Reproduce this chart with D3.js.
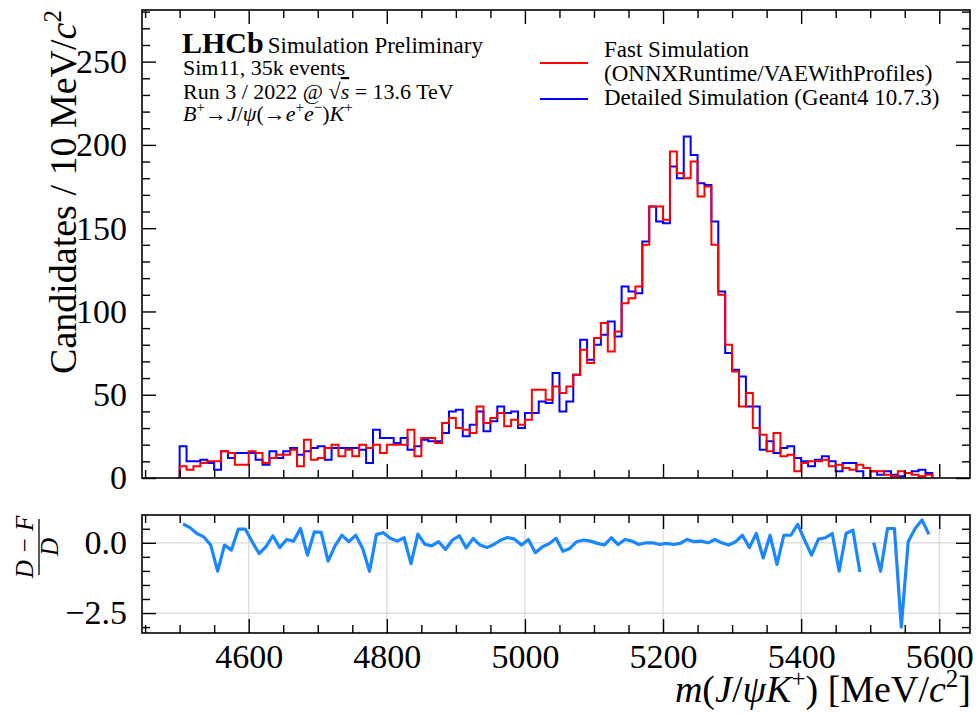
<!DOCTYPE html>
<html>
<head>
<meta charset="utf-8">
<script src="https://cdn.jsdelivr.net/npm/d3@7"></script>
<style>
body { margin: 0; background: #fff; }
svg text { font-family: "Liberation Serif", "DejaVu Serif", serif; fill: #000; }
</style>
</head>
<body>
<svg id="chart" width="977" height="715"></svg>
<script>
// binning of the histogram, MeV
const binStart = 4500, binWidth = 10;

// Detailed Simulation (Geant4), candidates per bin
const detailed = [19,10,10,11,9,5,16,12,15,15,15,11,8,16,12,16,18,14,16,18,19,11,18,18,18,18,17,9,
  29,24,24,21,24,17,19,23,22,22,27,40,41,25,32,40,28,34,43,39,40,30,39,39,46,45,63,
  40,46,62,83,71,80,86,94,85,115,112,111,142,163,154,153,187,180,205,194,177,176,154,112,
  75,65,61,43,43,17,22,15,18,19,12,10,7,11,13,10,4,9,9,4,0,4,2,4,2,1,3,4,5,3];

// Fast Simulation (ONNXRuntime / VAEWithProfiles)
const fast = [7,5,7,9,10,10,16,15,8,8,16,15,9,12,14,14,17,7,23,11,12,18,20,13,17,13,20,18,
  20,15,20,20,20,29,13,24,24,21,33,36,30,29,27,43,33,36,39,31,35,32,35,53,53,47,55,
  51,55,62,77,69,84,93,76,88,105,108,115,140,163,163,155,196,183,180,190,169,175,140,110,
  80,64,43,51,30,26,16,27,13,14,4,9,10,10,11,7,8,6,5,8,6,4,4,2,1,4,3,2,1,2];

// (D-F)/D per bin, null where D is empty
const ratio = [0.67,0.54,0.33,0.21,-0.08,-1.01,-0.08,-0.26,0.49,0.49,0.04,-0.38,-0.14,0.25,-0.17,0.12,0.06,0.51,
  -0.44,0.39,0.37,-0.65,-0.11,0.27,0.04,0.27,-0.2,-1.01,0.30,0.36,0.16,0.06,0.18,-0.74,0.31,-0.05,-0.11,0.04,
  -0.24,0.1,0.25,-0.18,0.16,-0.08,-0.17,-0.06,0.1,0.19,0.13,-0.08,0.12,-0.35,-0.15,-0.03,
  0.16,-0.30,-0.20,0.04,0.10,0.06,-0.02,-0.08,0.18,-0.06,0.12,0.06,-0.06,0.0,0.0,-0.06,-0.02,-0.06,-0.02,
  0.12,0.04,0.06,0.0,0.12,0.0,-0.08,0.04,0.27,-0.17,0.33,-0.54,0.27,-0.77,0.27,0.27,0.66,0.10,-0.44,
  0.13,0.18,0.33,-1.01,0.33,0.45,-1.04,null,0.01,-1.01,0.51,0.51,-3.0,0.04,0.51,0.81,0.30];

const xMajor = [4600, 4800, 5000, 5200, 5400, 5600];
const yMajorTop = [0, 50, 100, 150, 200, 250];
const yMajorRatio = [-2.5, 0.0];

const svg = d3.select("#chart");
const left = 142, right = 970;
const top1 = 10, bot1 = 478, top2 = 515, bot2 = 633;

const x = d3.scaleLinear().domain([4445.5, 5644.5]).range([left, right]);
const y = d3.scaleLinear().domain([0, 281]).range([bot1, top1]);
const yr = d3.scaleLinear().domain([-3.21, 0.99]).range([bot2, top2]);

const edges = detailed.map((d, i) => binStart + i * binWidth);
const lastEdge = binStart + detailed.length * binWidth;
const xMinor = d3.range(4450, 5650, 50).filter(v => xMajor.indexOf(v) < 0);

const MAJ = 14, MIN = 8;

// inward ticks on every side
function ticks(g, axis, vals, size, fmt) {
  g.call(axis.tickValues(vals).tickSize(-size).tickFormat(fmt || ""));
  g.select(".domain").remove();
  g.selectAll("line").attr("stroke", "#000").attr("stroke-width", 1.4);
  return g;
}

// ratio grid
const grid = svg.append("g").attr("stroke", "#d9d9d9").attr("stroke-width", 1.2);
xMajor.forEach(v => grid.append("line").attr("x1", x(v)).attr("x2", x(v)).attr("y1", top2).attr("y2", bot2));
yMajorRatio.forEach(v => grid.append("line").attr("x1", left).attr("x2", right).attr("y1", yr(v)).attr("y2", yr(v)));

// histograms
const stepLine = d3.line().x(d => x(d[0])).y(d => y(d[1])).curve(d3.curveStepAfter);
function histPts(vals) {
  return [[binStart, 0]].concat(vals.map((v, i) => [edges[i], v])).concat([[lastEdge, 0]]);
}
svg.append("path").attr("d", stepLine(histPts(detailed)))
  .attr("fill", "none").attr("stroke", "#0000ff").attr("stroke-width", 2);
svg.append("path").attr("d", stepLine(histPts(fast)))
  .attr("fill", "none").attr("stroke", "#ff0000").attr("stroke-width", 2);

// ratio line
const rLine = d3.line().defined(d => d != null)
  .x((d, i) => x(edges[i] + binWidth / 2)).y(d => yr(d));
svg.append("path").attr("d", rLine(ratio))
  .attr("fill", "none").attr("stroke", "#1a86ff").attr("stroke-width", 3.2)
  .attr("stroke-linejoin", "round");

// frames
[[top1, bot1], [top2, bot2]].forEach(p => {
  svg.append("rect").attr("x", left).attr("y", p[0]).attr("width", right - left).attr("height", p[1] - p[0])
    .attr("fill", "none").attr("stroke", "#000").attr("stroke-width", 1.6);
});

// top panel ticks
const yMinorTop = d3.range(0, 281, 10).filter(v => yMajorTop.indexOf(v) < 0);
ticks(svg.append("g").attr("transform", `translate(0,${bot1})`), d3.axisBottom(x), xMajor, MAJ);
ticks(svg.append("g").attr("transform", `translate(0,${bot1})`), d3.axisBottom(x), xMinor, MIN);
ticks(svg.append("g").attr("transform", `translate(0,${top1})`), d3.axisTop(x), xMajor, MAJ);
ticks(svg.append("g").attr("transform", `translate(0,${top1})`), d3.axisTop(x), xMinor, MIN);
const yl = ticks(svg.append("g").attr("transform", `translate(${left},0)`),
  d3.axisLeft(y).tickPadding(15), yMajorTop, MAJ, d3.format("d"));
ticks(svg.append("g").attr("transform", `translate(${left},0)`), d3.axisLeft(y), yMinorTop, MIN);
ticks(svg.append("g").attr("transform", `translate(${right},0)`), d3.axisRight(y), yMajorTop, MAJ);
ticks(svg.append("g").attr("transform", `translate(${right},0)`), d3.axisRight(y), yMinorTop, MIN);

// ratio panel ticks
const yMinorRatio = d3.range(-3.0, 1.0, 0.5).filter(v => Math.abs(v) > 1e-9 && Math.abs(v + 2.5) > 1e-9);
const xl = ticks(svg.append("g").attr("transform", `translate(0,${bot2})`),
  d3.axisBottom(x).tickPadding(11), xMajor, MAJ, d3.format("d"));
ticks(svg.append("g").attr("transform", `translate(0,${bot2})`), d3.axisBottom(x), xMinor, MIN);
ticks(svg.append("g").attr("transform", `translate(0,${top2})`), d3.axisTop(x), xMajor, MAJ);
ticks(svg.append("g").attr("transform", `translate(0,${top2})`), d3.axisTop(x), xMinor, MIN);
const yrl = ticks(svg.append("g").attr("transform", `translate(${left},0)`),
  d3.axisLeft(yr).tickPadding(15), yMajorRatio, MAJ, d3.format(".1f"));
ticks(svg.append("g").attr("transform", `translate(${left},0)`), d3.axisLeft(yr), yMinorRatio, MIN);
ticks(svg.append("g").attr("transform", `translate(${right},0)`), d3.axisRight(yr), yMajorRatio, MAJ);
ticks(svg.append("g").attr("transform", `translate(${right},0)`), d3.axisRight(yr), yMinorRatio, MIN);

[yl, xl, yrl].forEach(g => g.attr("font-family", null).attr("font-size", null)
  .selectAll("text").attr("font-size", 34).attr("fill", "#000"));

// axis titles
const yt = svg.append("text").attr("transform", "translate(76,10) rotate(-90)")
  .attr("text-anchor", "end").attr("font-size", 38);
yt.append("tspan").text("Candidates / 10 MeV/");
yt.append("tspan").attr("font-style", "italic").text("c");
yt.append("tspan").attr("font-size", 25).attr("dy", -15).text("2");

const xt = svg.append("text").attr("x", 971).attr("y", 702).attr("text-anchor", "end").attr("font-size", 38);
xt.append("tspan").attr("font-style", "italic").text("m");
xt.append("tspan").text("(");
xt.append("tspan").attr("font-style", "italic").text("J");
xt.append("tspan").text("/");
xt.append("tspan").attr("font-style", "italic").text("ψK");
xt.append("tspan").attr("font-size", 25).attr("dy", -15).text("+");
xt.append("tspan").attr("dy", 15).text(") [MeV/");
xt.append("tspan").attr("font-style", "italic").text("c");
xt.append("tspan").attr("font-size", 25).attr("dy", -15).text("2");
xt.append("tspan").attr("dy", 15).text("]");

const fr = svg.append("g").attr("transform", "translate(39,547) rotate(-90)").attr("font-size", 25);
fr.append("text").attr("y", -6).attr("text-anchor", "middle").attr("font-style", "italic").text("D − F");
fr.append("line").attr("x1", -28).attr("x2", 28).attr("y1", 0).attr("y2", 0).attr("stroke", "#000").attr("stroke-width", 1.3);
fr.append("text").attr("y", 19).attr("text-anchor", "middle").attr("font-style", "italic").text("D");

// LHCb label block
const lab = svg.append("g").attr("font-size", 22);
const l1 = lab.append("text").attr("x", 182).attr("y", 53);
l1.append("tspan").attr("font-weight", "bold").attr("font-size", 30).text("LHCb");
l1.append("tspan").attr("dx", 4).attr("font-size", 23).text("Simulation Preliminary");
lab.append("text").attr("x", 183).attr("y", 75).text("Sim11, 35k events");
const l3 = lab.append("text").attr("x", 183).attr("y", 99);
l3.append("tspan").text("Run 3 / 2022 @ √");
l3.append("tspan").attr("font-style", "italic").attr("text-decoration", "overline").text("s");
l3.append("tspan").text(" = 13.6 TeV");
const l4 = lab.append("text").attr("x", 183).attr("y", 121);
l4.append("tspan").attr("font-style", "italic").text("B");
l4.append("tspan").attr("font-size", 15).attr("dy", -9).text("+");
l4.append("tspan").attr("dy", 9).text("→");
l4.append("tspan").attr("font-style", "italic").text("J");
l4.append("tspan").text("/");
l4.append("tspan").attr("font-style", "italic").text("ψ");
l4.append("tspan").text("(→");
l4.append("tspan").attr("font-style", "italic").text("e");
l4.append("tspan").attr("font-size", 15).attr("dy", -9).text("+");
l4.append("tspan").attr("dy", 9).attr("font-style", "italic").text("e");
l4.append("tspan").attr("font-size", 15).attr("dy", -9).text("−");
l4.append("tspan").attr("dy", 9).text(")");
l4.append("tspan").attr("font-style", "italic").text("K");
l4.append("tspan").attr("font-size", 15).attr("dy", -9).text("+");

// legend
const legend = [
  {color: "#ff0000", ly: 63, lines: [["Fast Simulation", 57], ["(ONNXRuntime/VAEWithProfiles)", 81]]},
  {color: "#0000ff", ly: 99, lines: [["Detailed Simulation (Geant4 10.7.3)", 105]]}
];
const lg = svg.append("g");
legend.forEach(d => {
  lg.append("line").attr("x1", 540).attr("x2", 588).attr("y1", d.ly).attr("y2", d.ly)
    .attr("stroke", d.color).attr("stroke-width", 2);
  d.lines.forEach(t => lg.append("text").attr("x", 604).attr("y", t[1]).attr("font-size", 23).text(t[0]));
});
</script>
</body>
</html>
